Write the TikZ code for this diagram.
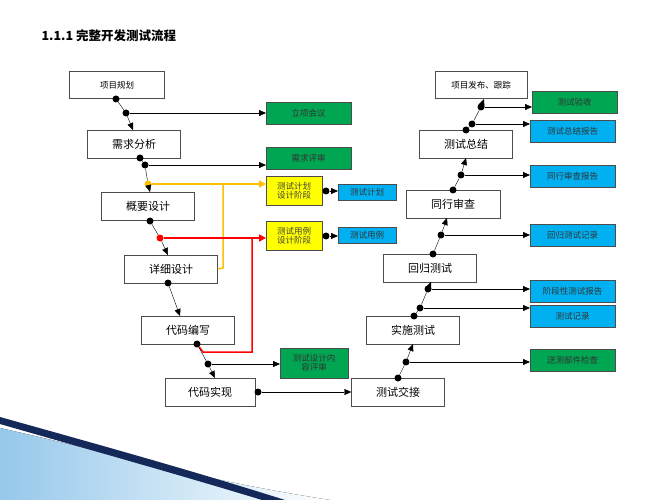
\documentclass[tikz,border=0pt]{standalone}
\usepackage{fontspec}
\setmainfont{Noto Sans CJK SC}
\usetikzlibrary{arrows.meta}
\definecolor{gr}{RGB}{0,166,81}
\definecolor{bl}{RGB}{0,176,240}
\definecolor{ye}{RGB}{255,255,0}
\definecolor{orn}{RGB}{255,192,0}
\definecolor{navy}{RGB}{20,40,90}
\definecolor{lb}{RGB}{150,200,235}
\begin{document}
\begin{tikzpicture}[x=1pt,y=-1pt,
 box/.style={draw=black!70,fill=white,inner sep=0,minimum width=93pt,minimum height=28pt,font=\fontsize{11}{11}\selectfont},
 tag/.style={draw=black!70,inner sep=0,minimum width=85pt,minimum height=22pt,font=\fontsize{8.5}{9.5}\selectfont},
 gtag/.style={tag,fill=gr,text=black!80},
 btag/.style={tag,fill=bl,text=black!80},
 ytag/.style={tag,fill=ye,minimum width=56pt,minimum height=29pt,align=center,font=\fontsize{8.5}{9.5}\selectfont\color{black!75}},
 dot/.style={circle,fill=black,inner sep=0,minimum size=7pt},
 arr/.style={-{Triangle[length=7pt,width=6pt]},black,thin},
 ln/.style={black,thin}]
\useasboundingbox (0,0) rectangle (667,500);
% background swoosh
\fill[left color=lb, right color=white] (0,428) .. controls (120,455) and (200,480) .. (330,500) -- (0,500) -- cycle;
\fill[navy] (0,417) .. controls (100,445) and (190,470) .. (285,500) -- (262,500) .. controls (170,472) and (90,450) .. (0,424) -- cycle;
\node[anchor=west,font=\bfseries\fontsize{12.5}{12.5}\selectfont] (title) at (38,36) {1.1.1 完整开发测试流程};
% left boxes
\node[box,minimum width=95pt,minimum height=27pt,font=\fontsize{8.5}{9}\selectfont] (a) at (117,85) {项目规划};
\node[box] (b) at (134,144) {需求分析};
\node[box] (c) at (148,206) {概要设计};
\node[box] (d) at (171,269) {详细设计};
\node[box] (e) at (188,330) {代码编写};
\node[box,minimum width=90pt] (f) at (210,392) {代码实现};
\node[box] (g) at (398,392) {测试交接};
% right boxes
\node[box,minimum width=92pt,minimum height=27pt,font=\fontsize{8.5}{9}\selectfont] (r1) at (481,85) {项目发布、跟踪};
\node[box] (r2) at (466,144) {测试总结};
\node[box,minimum width=94pt] (r3) at (453,204) {同行审查};
\node[box] (r4) at (430,268) {回归测试};
\node[box] (r5) at (413,330) {实施测试};
% tags left
\node[gtag,anchor=west] (t1) at (266,113) {立项会议};
\node[gtag,anchor=west] (t2) at (266,158) {需求评审};
\node[ytag,anchor=west] (y1) at (266,191) {测试计划\\设计阶段};
\node[ytag,anchor=west] (y2) at (266,236) {测试用例\\设计阶段};
\node[btag,anchor=west,minimum width=58pt,minimum height=16pt] (u1) at (338,192) {测试计划};
\node[btag,anchor=west,minimum width=58pt,minimum height=16pt] (u2) at (338,235) {测试用例};
\node[gtag,anchor=west,minimum width=68pt,minimum height=30pt,align=center] (t3) at (280,363) {测试设计内\\容评审};
% tags right
\node[gtag,anchor=west] (s1) at (532,102) {测试验收};
\node[btag,anchor=west] (s2) at (530,131) {测试总结报告};
\node[btag,anchor=west] (s3) at (530,176) {同行审查报告};
\node[btag,anchor=west] (s4) at (530,235) {回归测试记录};
\node[btag,anchor=west] (s5) at (530,291) {阶段性测试报告};
\node[btag,anchor=west] (s6) at (530,316) {测试记录};
\node[gtag,anchor=west] (s7) at (530,360) {送测部件检查};
% left chain
\node[dot] (a1) at (116,99) {};
\node[dot] (a2) at (126,113) {};
\draw[ln] (a1) -- (a2); \draw[arr] (a2) -- (133,130);
\draw[arr] (a2) -- (t1.west);
\node[dot] (b1) at (140,158) {};
\node[dot] (b2) at (145,165) {};
\node[dot,fill=orn] (b3) at (148,184) {};
\draw[ln] (b1)--(b2)--(b3); \draw[arr] (b3) -- (150,192);
\draw[arr] (b2) -- (t2.west |- b2);
\draw[orn,line width=1.5pt,-{Triangle[length=7pt,width=7pt]}] (b3) -- (y1.west |- b3);
\draw[orn,line width=1.5pt] (223,184) -- (223,268) -- (d.east);
\node[dot] (c1) at (150,221) {};
\node[dot,fill=red] (c2) at (160,238) {};
\draw[ln] (c1)--(c2); \draw[arr] (c2) -- (168,255);
\draw[red,line width=1.5pt,-{Triangle[length=7pt,width=7pt]}] (c2) -- (y2.west |- c2);
\node[dot] (d1) at (168,283) {};
\draw[arr] (d1) -- (180,316);
\node[dot] (e1) at (197,344) {};
\node[dot] (e2) at (208,364) {};
\draw[red,line width=1.5pt] (e1) -- (203,352) -- (252,352) -- (252,238);
\draw[ln] (e1)--(e2); \draw[arr] (e2) -- (215,378);
\draw[arr] (e2) -- (t3.west |- e2);
\node[dot] (f1) at (258,392) {};
\draw[arr] (f1) -- (g.west);
\node[dot] (y1d) at (326,191) {};
\draw[arr] (y1d) -- (u1.west |- y1d);
\node[dot] (y2d) at (326,236) {};
\draw[arr] (y2d) -- (u2.west |- y2d);
% right chain
\node[dot] (g1) at (398,378) {};
\node[dot] (g2) at (406,362) {};
\draw[ln] (g1)--(g2); \draw[arr] (g2) -- (413,344);
\draw[arr] (g2) -- (s7.west |- g2);
\node[dot] (p1) at (414,316) {};
\node[dot] (p2) at (420,308) {};
\node[dot] (p3) at (428,289) {};
\draw[ln] (p1)--(p2)--(p3); \draw[arr] (p3) -- (431,282);
\draw[arr] (p2) -- (s6.west |- p2);
\draw[arr] (p3) -- (s5.west |- p3);
\node[dot] (q1) at (433,254) {};
\node[dot] (q2) at (441,235) {};
\draw[ln] (q1)--(q2); \draw[arr] (q2) -- (447,218);
\draw[arr] (q2) -- (s4.west |- q2);
\node[dot] (w1) at (453,190) {};
\node[dot] (w2) at (461,175) {};
\draw[ln] (w1)--(w2); \draw[arr] (w2) -- (466,158);
\draw[arr] (w2) -- (s3.west |- w2);
\node[dot] (v1) at (466,130) {};
\node[dot] (v2) at (472,124) {};
\node[dot] (v3) at (481,107) {};
\draw[ln] (v1)--(v2)--(v3); \draw[arr] (v3) -- (484,99);
\draw[arr] (v2) -- (s2.west |- v2);
\draw[arr] (v3) -- (s1.west |- v3);
\end{tikzpicture}
\end{document}
